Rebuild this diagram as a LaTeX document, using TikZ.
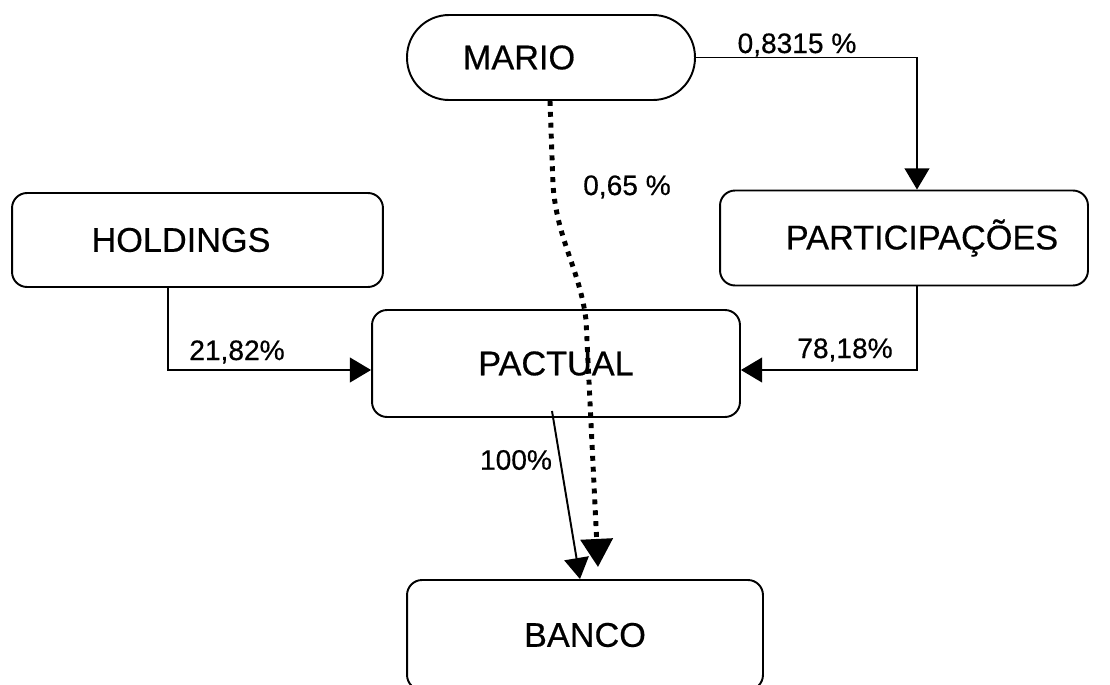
\documentclass[tikz,border=0pt]{standalone}
\usepackage{fontspec}
\setmainfont{Liberation Sans}
% scanned lettering is a little heavier than the plain font
\newfontfamily\scanfont{Liberation Sans}[FakeBold=0.5]
\usetikzlibrary{positioning,calc,arrows.meta}

\begin{document}
\begin{tikzpicture}[
    x=0.02cm, y=-0.02cm,
    box/.style={draw, line width=1.1pt, rounded corners=0.3cm, align=center, font=\scanfont\fontsize{19.5}{23}\selectfont},
    lbl/.style={font=\scanfont\fontsize{16}{19}\selectfont},
    arr/.style={line width=1.1pt, -{Triangle[width=14pt,length=12pt]}},
    dotarr/.style={line width=2.8pt, dash pattern=on 2.8pt off 3.4pt, -{Triangle[width=18pt,length=16pt]}}
]
    \useasboundingbox (0,0) rectangle (1110,684);

    % --- top ---
    \node[box, rounded corners=0.84cm, minimum width=5.76cm, minimum height=1.7cm] (mario) at (551,57.5) {\hspace*{-1.28cm}MARIO};

    % --- middle row ---
    \node[box, minimum width=7.42cm, minimum height=1.88cm] (hold) at (197.5,240) {\hspace*{-0.66cm}HOLDINGS};
    \node[box, minimum width=7.36cm, minimum height=1.9cm] (partic) at (904,238) {\hspace*{0.72cm}PARTICIPAÇÕES};
    \node[box, minimum width=7.36cm, minimum height=2.14cm] (pactual) at (556,363.5) {PACTUAL};

    % --- bottom (cut by the page) ---
    \node[box, minimum width=7.12cm, minimum height=2.2cm] (banco) at (585,635) {BANCO};

    % --- connectors ---
    \draw[arr] (mario.east) -| ([xshift=0.26cm]partic.north);
    \draw[arr] ([xshift=-0.59cm]hold.south) |- ([yshift=-0.13cm]pactual.west);
    \draw[arr] ([xshift=0.26cm]partic.south) |- ([yshift=-0.13cm]pactual.east);
    \draw[arr] ([xshift=-0.08cm,yshift=0.14cm]pactual.south) -- ([xshift=-0.1cm]banco.north);
    \draw[dotarr] ([xshift=-0.02cm]mario.south) -- (553,185) .. controls (557,240) and (580,270) .. (586,320) -- ([xshift=0.26cm,yshift=0.24cm]banco.north);

    % --- percentages ---
    \node[lbl] (l1) at (797,45) {0,8315 \%};
    \node[lbl] (l2) at (627,187) {0,65 \%};
    \node[lbl] (l3) at (237,352) {21,82\%};
    \node[lbl] (l4) at (845,350) {78,18\%};
    \node[lbl] (l5) at (516,460) {100\%};
\end{tikzpicture}
\end{document}
